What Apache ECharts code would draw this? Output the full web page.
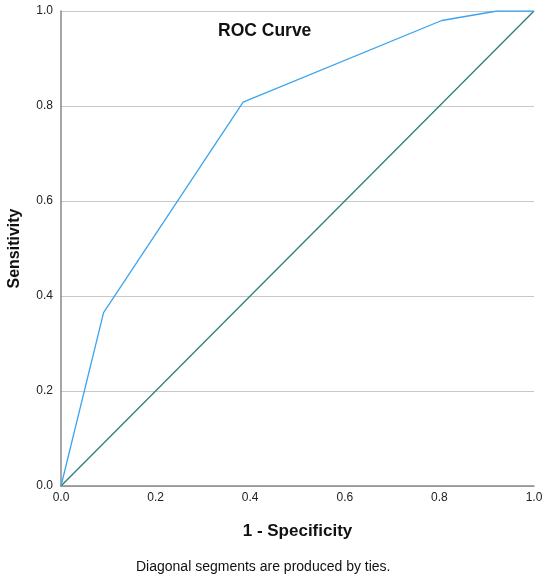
<!DOCTYPE html>
<html><head><meta charset="utf-8">
<script src="https://cdn.jsdelivr.net/npm/echarts@6/dist/echarts.min.js"></script>
<style>html,body{margin:0;padding:0;background:#fff}#c{width:550px;height:581px}</style>
</head><body><div id="c"></div>
<script>
const rocX = [0, 0.09, 0.385, 0.805, 0.922, 1.0];
const rocY = [0, 0.365, 0.808, 0.98, 1.0, 1.0];
const refX = [0, 1];
const refY = [0, 1];
const tickLabels = ['0.0','0.2','0.4','0.6','0.8','1.0'];
const chart = echarts.init(document.getElementById('c'));
const ff = 'Arial, "Liberation Sans", sans-serif';
chart.setOption({
  animation: false,
  title: [
    {text: 'ROC Curve', left: 213, top: 17, textStyle: {fontFamily: ff, fontSize: 17.5, fontWeight: 'bold', color: '#111'}},
    {text: 'Diagonal segments are produced by ties.', left: 131, top: 555, textStyle: {fontFamily: ff, fontSize: 14, fontWeight: 'normal', color: '#111'}}
  ],
  grid: {left: 61, right: 16, top: 11, bottom: 95, outerBoundsMode: 'none', containLabel: false},
  xAxis: {
    type: 'value', min: 0, max: 1, interval: 0.2,
    name: '1 - Specificity', nameLocation: 'middle', nameGap: 45,
    nameTextStyle: {fontFamily: ff, fontSize: 17, fontWeight: 'bold', color: '#111', verticalAlign: 'middle'},
    axisLine: {show: true, lineStyle: {color: '#888', width: 1.5}},
    axisTick: {show: false},
    splitLine: {show: false},
    axisLabel: {fontFamily: ff, fontSize: 12, color: '#222', margin: 6, formatter: v => tickLabels[Math.round(v*5)]}
  },
  yAxis: {
    type: 'value', min: 0, max: 1, interval: 0.2,
    name: 'Sensitivity', nameLocation: 'middle', nameGap: 46,
    nameTextStyle: {fontFamily: ff, fontSize: 16, fontWeight: 'bold', color: '#111', verticalAlign: 'middle'},
    axisLine: {show: true, lineStyle: {color: '#888', width: 1.5}},
    axisTick: {show: false},
    splitLine: {show: true, lineStyle: {color: '#c8c8c8', width: 1.2}},
    axisLabel: {fontFamily: ff, fontSize: 12, color: '#222', margin: 8, formatter: v => tickLabels[Math.round(v*5)]}
  },
  series: [
    {type: 'line', data: refX.map((x,i)=>[x, refY[i]]), symbol: 'none', lineStyle: {color: '#2b7f7a', width: 1.3}},
    {type: 'line', data: rocX.map((x,i)=>[x, rocY[i]]), symbol: 'none', lineStyle: {color: '#3ca4ec', width: 1.3}}
  ]
});
</script></body></html>
